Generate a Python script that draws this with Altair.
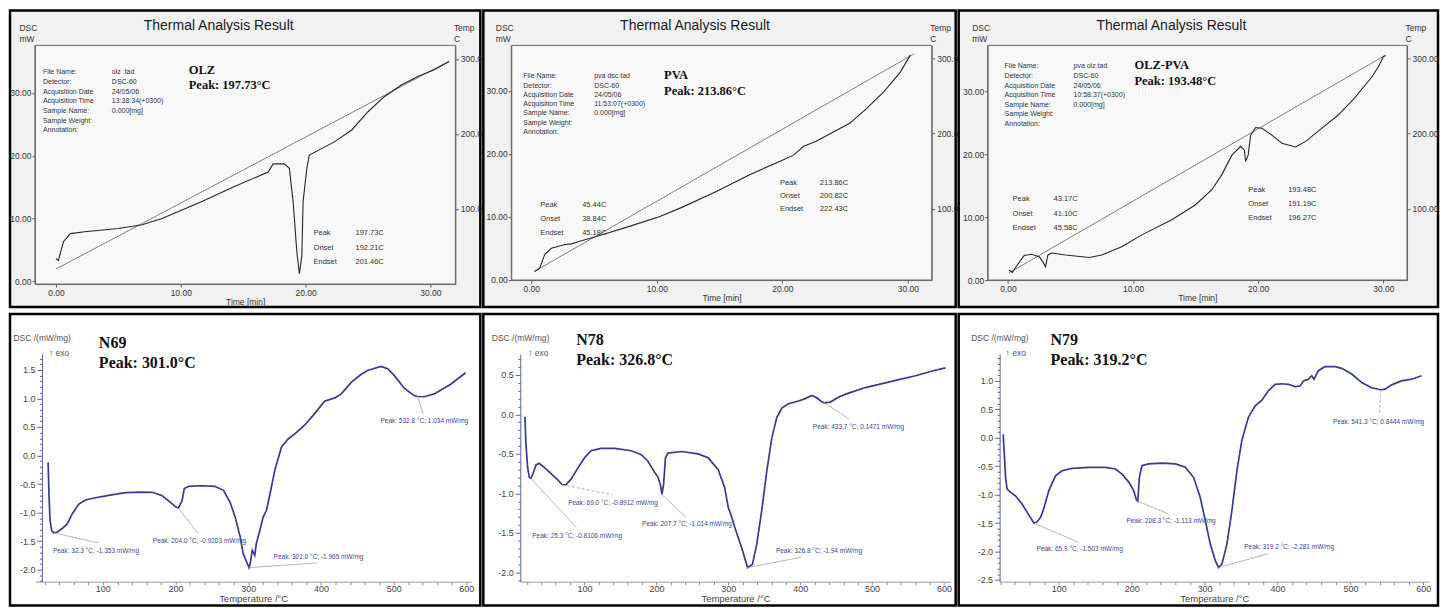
import altair as alt
import pandas as pd

SANS = "Liberation Sans"
SERIF = "Liberation Serif"

# ---------------- data: top row (time [min], DSC [mW], temperature [C]) ----------------
olz_time = [0.0, 0.2, 0.6, 1.15, 2.3, 5.0, 6.9, 8.5, 11.7, 14.3, 17.0, 17.4, 18.3, 18.7, 19.0,
            19.3, 19.5, 19.7, 19.8, 20.1, 20.3, 22.3, 23.7, 25.0, 26.3, 27.7, 29.0, 30.3, 31.5]
olz_dsc = [3.6, 3.35, 6.3, 7.6, 7.9, 8.4, 9.0, 10.0, 12.7, 15.1, 17.4, 18.7, 18.7, 18.0, 12.7,
           4.7, 1.2, 4.1, 12.7, 18.0, 20.1, 22.2, 24.1, 27.0, 29.4, 31.3, 32.6, 33.7, 35.0]
olz_temp_time = [0.0, 31.5]
olz_temp = [20.0, 297.0]

pva_time = [0.27, 0.67, 1.07, 1.6, 2.7, 3.2, 4.0, 5.6, 8.0, 10.2, 12.0, 14.7, 17.4, 20.0, 20.9,
            21.7, 22.7, 25.4, 26.7, 28.1, 29.4, 30.2]
pva_dsc = [1.3, 1.85, 4.0, 5.0, 5.6, 5.7, 6.2, 7.1, 8.6, 10.0, 11.5, 14.0, 16.7, 19.0, 19.8,
           21.2, 22.0, 24.9, 27.2, 29.9, 33.0, 35.7]
pva_temp_time = [0.27, 30.5]
pva_temp = [17.0, 306.0]

mix_time = [0.08, 0.35, 0.75, 1.3, 1.9, 2.5, 2.8, 3.0, 3.2, 3.5, 4.6, 6.5, 7.5, 9.1, 10.7, 13.1,
            15.0, 16.3, 17.1, 17.9, 18.6, 18.9, 19.0, 19.2, 19.4, 19.8, 20.3, 21.1, 21.9, 23.0,
            23.8, 25.1, 26.4, 27.7, 29.1, 29.7, 30.0, 30.2]
mix_dsc = [1.6, 1.2, 2.4, 3.9, 4.1, 3.7, 2.9, 2.1, 4.0, 4.3, 4.0, 3.6, 4.0, 5.3, 7.2, 9.6,
           12.0, 14.4, 16.8, 19.9, 21.3, 20.7, 18.9, 19.9, 23.1, 24.3, 24.2, 23.1, 21.8, 21.2,
           22.1, 24.2, 26.3, 29.0, 32.4, 34.3, 35.6, 35.8]
mix_temp_time = [0.1, 30.1]
mix_temp = [15.0, 303.5]

time_ticks = [0, 10, 20, 30]
dsc_ticks = [0, 10, 20, 30]
temp_ticks = [100, 200, 300]

info_labels = ["File Name:", "Detector:", "Acquisition Date", "Acquisition Time",
               "Sample Name:", "Sample Weight:", "Annotation:"]
olz_info = ["olz .tad", "DSC-60", "24/05/06", "13:38:34(+0300)", "", "0.000[mg]"]
pva_info = ["pva dsc.tad", "DSC-60", "24/05/06", "11:53:07(+0300)", "", "0.000[mg]"]
mix_info = ["pva olz.tad", "DSC-60", "24/05/06", "10:58:37(+0300)", "", "0.000[mg]"]

block_labels = ["Peak", "Onset", "Endset"]
olz_block = ["197.73C", "192.21C", "201.46C"]
pva_block1 = ["45.44C", "38.84C", "45.18C"]
pva_block2 = ["213.86C", "200.82C", "222.43C"]
mix_block1 = ["43.17C", "41.10C", "45.58C"]
mix_block2 = ["193.48C", "191.19C", "196.27C"]

# ---------------- data: bottom row (temperature [C], DSC [mW/mg]) ----------------
n69_T = [24.7, 26.0, 27.4, 29.7, 32.3, 37.4, 44, 51, 58, 67,
         76, 90, 108, 131, 154, 168, 181, 193, 200, 204,
         209, 212, 218, 236, 254, 266, 275, 282, 289, 293,
         298, 301, 303, 305.5, 309, 311, 316, 320.5, 325, 330,
         336.5, 345.7, 354.8, 364, 377.6, 391, 405, 419, 428, 441.6,
         455, 464, 482.6, 491.8, 501, 514.6, 528, 532.8, 542, 555.7,
         578.5, 599]
n69_v = [-0.12, -0.73, -1.14, -1.32, -1.353, -1.34, -1.28, -1.20, -1.02, -0.85,
         -0.78, -0.74, -0.70, -0.65, -0.64, -0.645, -0.70, -0.82, -0.90, -0.92,
         -0.79, -0.58, -0.54, -0.53, -0.54, -0.61, -0.82, -1.08, -1.43, -1.72,
         -1.87, -1.965, -1.87, -1.66, -1.75, -1.55, -1.31, -1.08, -0.96, -0.67,
         -0.26, 0.15, 0.29, 0.38, 0.53, 0.73, 0.95, 1.01, 1.08, 1.28,
         1.42, 1.49, 1.56, 1.52, 1.40, 1.18, 1.05, 1.034, 1.03, 1.08,
         1.25, 1.45]

n78_T = [17.2, 18.6, 21.0, 23.3, 25.3, 28.0, 32.6, 37.0, 44.0, 53.5,
         62.8, 69.0, 74.4, 81.4, 90.7, 100, 109, 123, 142, 165,
         179, 188, 198, 202, 205.6, 207.7, 210, 212.6, 216, 235,
         258, 272, 286, 295, 300, 303.7, 309, 318.6, 326.8, 333.5,
         339.5, 346.5, 353.5, 360.5, 367.4, 374.4, 383.7, 397.7, 407, 416,
         423, 430, 433.7, 442, 453.5, 467.4, 490.7, 514, 537, 560.5,
         583.7, 602]
n78_v = [-0.03, -0.38, -0.68, -0.80, -0.8106, -0.76, -0.64, -0.62, -0.67, -0.75,
         -0.83, -0.8912, -0.89, -0.82, -0.68, -0.55, -0.46, -0.43, -0.43, -0.46,
         -0.51, -0.59, -0.74, -0.79, -0.89, -1.014, -0.89, -0.55, -0.49, -0.47,
         -0.50, -0.55, -0.70, -0.93, -1.18, -1.27, -1.43, -1.69, -1.94, -1.90,
         -1.65, -1.22, -0.72, -0.30, -0.04, 0.08, 0.135, 0.17, 0.20, 0.24,
         0.21, 0.16, 0.147, 0.156, 0.22, 0.27, 0.34, 0.39, 0.44, 0.49,
         0.55, 0.59]

n79_T = [23.7, 25.0, 27.0, 29.0, 33.8, 40.6, 49.8, 59.0, 65.9, 70.0,
         75.0, 79.5, 86.3, 95.4, 104.6, 118, 141, 164, 177.6, 186.8,
         196, 202.7, 206.4, 208.3, 210.5, 214, 223, 241.5, 260, 273.5,
         285, 294, 301, 307.8, 314.6, 319.2, 323.7, 330.6, 337.4, 344.3,
         351, 360, 369.4, 378.5, 387.7, 396.8, 406, 415, 424, 431,
         435.6, 442.5, 447, 450, 456, 465, 479, 488, 501.8, 515.5,
         529, 541.3, 547.5, 556.6, 570, 584, 597.7]
n79_v = [0.06, -0.23, -0.70, -0.90, -0.96, -1.02, -1.17, -1.36, -1.503, -1.48,
         -1.40, -1.24, -0.93, -0.67, -0.58, -0.54, -0.52, -0.52, -0.55, -0.64,
         -0.78, -0.93, -1.09, -1.113, -0.70, -0.49, -0.46, -0.445, -0.46, -0.52,
         -0.70, -1.05, -1.46, -1.87, -2.16, -2.281, -2.22, -1.87, -1.28, -0.58,
         -0.05, 0.36, 0.56, 0.66, 0.83, 0.94, 0.95, 0.94, 0.90, 0.91,
         1.00, 1.03, 1.09, 1.03, 1.18, 1.25, 1.25, 1.22, 1.12, 0.97,
         0.88, 0.8444, 0.855, 0.93, 1.00, 1.03, 1.09]

# peak annotations: peak point, label text, label anchor (data units), dashed leader
n69_peak_T = [32.3, 204.0, 301.0, 532.8]
n69_peak_v = [-1.353, -0.9203, -1.965, 1.034]
n69_peak_txt = ["Peak: 32.3 °C; -1.353 mW/mg", "Peak: 204.0 °C; -0.9203 mW/mg",
                "Peak: 301.0 °C; -1.965 mW/mg", "Peak: 532.8 °C; 1.034 mW/mg"]
n69_lab_T = [31.3, 168.7, 334.9, 481.9]
n69_lab_v = [-1.668, -1.493, -1.773, 0.607]
n69_end_T = [94.1, 231.4, 394.0, 540.5]
n69_end_v = [-1.533, -1.375, -1.883, 0.725]
n69_dash = [False, False, False, False]

n78_peak_T = [25.3, 69.0, 207.7, 326.8, 433.7]
n78_peak_v = [-0.8106, -0.8912, -1.014, -1.94, 0.1471]
n78_peak_txt = ["Peak: 25.3 °C; -0.8106 mW/mg", "Peak: 69.0 °C; -0.8912 mW/mg",
                "Peak: 207.7 °C; -1.014 mW/mg", "Peak: 326.8 °C; -1.94 mW/mg",
                "Peak: 433.7 °C; 0.1471 mW/mg"]
n78_lab_T = [27.4, 77.3, 180.1, 366.2, 417.6]
n78_lab_v = [-1.536, -1.119, -1.384, -1.726, -0.158]
n78_end_T = [88.5, 139.4, 241.3, 401.0, 468.0]
n78_end_v = [-1.431, -1.018, -1.305, -1.81, -0.06]
n78_dash = [False, True, False, False, False]

n79_peak_T = [65.9, 208.3, 319.2, 541.3]
n79_peak_v = [-1.503, -1.113, -2.281, 0.8444]
n79_peak_txt = ["Peak: 65.9 °C; -1.503 mW/mg", "Peak: 208.3 °C; -1.113 mW/mg",
                "Peak: 319.2 °C; -2.281 mW/mg", "Peak: 541.3 °C; 0.8444 mW/mg"]
n79_lab_T = [69.5, 192.7, 354.4, 476.0]
n79_lab_v = [-1.95, -1.458, -1.915, 0.28]
n79_end_T = [127.4, 250.7, 387.7, 540.0]
n79_end_v = [-1.84, -1.34, -2.04, 0.43]
n79_dash = [False, False, False, True]

temp_major = [100, 200, 300, 400, 500, 600]
temp_minor = [20 * i for i in range(1, 31)]

ONE = pd.DataFrame({"k": [0]})


def rect(x0, x1, y0, y1, fill, stroke, sw, fo=1.0):
    return alt.Chart(ONE).mark_rect(fill=fill, fillOpacity=fo, stroke=stroke, strokeWidth=sw).encode(
        x=alt.value(x0), x2=alt.value(x1), y=alt.value(y0), y2=alt.value(y1))


def label(x, y, s, size, font=SANS, weight="normal", color="#222", align="left",
          baseline="middle", lh=None):
    kw = dict(align=align, baseline=baseline, fontSize=size, font=font, fontWeight=weight,
              color=color, lineBreak="\n")
    if lh:
        kw["lineHeight"] = lh
    return alt.Chart(ONE).mark_text(**kw).encode(x=alt.value(x), y=alt.value(y), text=alt.value(s))


def top_panel(w, h, xdom, ydom, tdom, t, dsc, tt, temp, border, info_vals, info_pos,
              name, peak, name_pos, blocks):
    xs = alt.Scale(domain=xdom, nice=False, zero=False)
    xax = alt.Axis(values=time_ticks, format=".2f", title="Time [min]", grid=False, zindex=1,
                   labelFontSize=8.5, labelColor="#333", tickColor="#555", domainColor="#666",
                   tickSize=3, labelPadding=1, titleFontSize=8.5, titleFontWeight="normal",
                   titleColor="#333", titlePadding=1, labelFont=SANS, titleFont=SANS)
    dsc_df = pd.DataFrame({"t": t, "dsc": dsc})
    temp_df = pd.DataFrame({"t": tt, "temp": temp})
    dsc_line = alt.Chart(dsc_df).mark_line(color="#262626", strokeWidth=1.1).encode(
        x=alt.X("t:Q", scale=xs, axis=xax),
        y=alt.Y("dsc:Q", scale=alt.Scale(domain=ydom, nice=False, zero=False),
                axis=alt.Axis(orient="left", values=dsc_ticks, format=".2f", grid=False, zindex=1,
                              title=["DSC", "mW"], titleAngle=0, titleAlign="left",
                              titleBaseline="top", titleX=-16, titleY=-22, titleFontSize=8.5,
                              titleFontWeight="normal", titleLineHeight=11, titleColor="#333",
                              labelFontSize=8.5, labelColor="#333", tickColor="#555",
                              domainColor="#666", tickSize=3, labelPadding=1,
                              labelFont=SANS, titleFont=SANS)))
    temp_line = alt.Chart(temp_df).mark_line(color="#707070", strokeWidth=0.9).encode(
        x=alt.X("t:Q", scale=xs, axis=xax),
        y=alt.Y("temp:Q", scale=alt.Scale(domain=tdom, nice=False, zero=False),
                axis=alt.Axis(orient="right", values=temp_ticks, format=".2f", grid=False, zindex=1,
                              title=["Temp", "C"], titleAngle=0, titleAlign="left",
                              titleBaseline="top", titleX=-2, titleY=-22, titleFontSize=8.5,
                              titleFontWeight="normal", titleLineHeight=11, titleColor="#333",
                              labelFontSize=8.5, labelColor="#333", tickColor="#555",
                              domainColor="#666", tickSize=3, labelPadding=2,
                              labelFont=SANS, titleFont=SANS)))
    bx0, bx1, by0, by1 = border
    layers = [
        rect(bx0, bx1, by0, by1, "#f1f1f1", "#000", 2.5),
        rect(0, w, 0, h, "#f8f8f8", "#666", 1),
        temp_line, dsc_line,
        label(184, -19, "Thermal Analysis Result", 14, align="center", color="#1a1a1a"),
        label(info_pos[0], info_pos[1], "\n".join(info_labels), 7, baseline="top",
              lh=info_pos[3], color="#333"),
        label(info_pos[2], info_pos[1], "\n".join(info_vals), 7, baseline="top",
              lh=info_pos[3], color="#333"),
        label(name_pos[0], name_pos[1], name, 12.5, font=SERIF, weight="bold", color="#111"),
        label(name_pos[0], name_pos[2], peak, 12.5, font=SERIF, weight="bold", color="#111"),
    ]
    for vals, (lx, vx, y0, lh) in blocks:
        layers.append(label(lx, y0, "\n".join(block_labels), 7.5, baseline="top", lh=lh, color="#333"))
        layers.append(label(vx, y0, "\n".join(vals), 7.5, baseline="top", lh=lh, color="#333"))
    return alt.layer(*layers).resolve_scale(y="independent").properties(width=w, height=h)


MAJOR_TEST = "abs(datum.value * 2 - round(datum.value * 2)) < 0.001"


def bottom_panel(w, h, xdom, ydom, T, v, border, yoffset, name, peak, name_pos, exo_x,
                 p_T, p_v, p_txt, l_T, l_v, e_T, e_v, dash):
    ymin = int(round(ydom[0] * 10))
    ymax = int(round(ydom[1] * 10))
    y_minor = [round(i * 0.1, 1) for i in range(ymin, ymax + 1)]
    xs = alt.Scale(domain=xdom, nice=False, zero=False)
    ys = alt.Scale(domain=ydom, nice=False, zero=False)
    xax = alt.Axis(values=temp_minor, format="d", grid=False, zindex=1,
                   labelExpr="datum.value % 100 === 0 ? datum.label : ''",
                   title="Temperature /°C", labelFontSize=9, labelColor="#444",
                   tickColor="#8a8a8a", domainColor="#999", tickSize=3, labelPadding=0,
                   titleFontSize=9.5, titleFontWeight="normal", titleColor="#444",
                   titlePadding=0, labelFont=SANS, titleFont=SANS)
    yax = alt.Axis(values=y_minor, grid=False, zindex=1, offset=yoffset,
                   labelExpr="%s ? replace(format(datum.value, '.1f'), '\u2212', '-') : ''" % MAJOR_TEST,
                   tickSize={"condition": {"test": MAJOR_TEST, "value": 5}, "value": 2.5},
                   title="DSC /(mW/mg)", titleAngle=0, titleAlign="left", titleBaseline="middle",
                   titleX=-29, titleY=-16, titleFontSize=8.5, titleFontWeight="normal",
                   titleColor="#555", labelFontSize=9, labelColor="#444", tickColor="#5a5ea6",
                   domainColor="#5a5ea6", labelPadding=2, labelFont=SANS, titleFont=SANS)
    curve = alt.Chart(pd.DataFrame({"T": T, "v": v})).mark_line(
        color="#363b8f", strokeWidth=1.7).encode(
        x=alt.X("T:Q", scale=xs, axis=xax), y=alt.Y("v:Q", scale=ys, axis=yax))
    ann = pd.DataFrame({"pT": p_T, "pv": p_v, "txt": p_txt, "lT": l_T, "lv": l_v,
                        "eT": e_T, "ev": e_v, "dash": dash})
    leaders = alt.Chart(ann).mark_rule(color="#9c9c9c", strokeWidth=0.8).encode(
        x=alt.X("pT:Q", scale=xs, axis=xax), y=alt.Y("pv:Q", scale=ys, axis=yax),
        x2="eT:Q", y2="ev:Q",
        strokeDash=alt.condition("datum.dash", alt.value([3, 2]), alt.value([1, 0])))
    texts = alt.Chart(ann).mark_text(align="left", baseline="middle", fontSize=6.5,
                                     color="#3d4399", font=SANS).encode(
        x=alt.X("lT:Q", scale=xs, axis=xax), y=alt.Y("lv:Q", scale=ys, axis=yax), text="txt:N")
    bx0, bx1, by0, by1 = border
    layers = [
        rect(bx0, bx1, by0, by1, "#ffffff", "#000", 2.5),
        curve, leaders, texts,
        label(exo_x, -1, "\u2191 exo", 8.5, color="#555"),
        label(name_pos[0], name_pos[1], name, 16, font=SERIF, weight="bold", color="#111"),
        label(name_pos[0], name_pos[2], peak, 16, font=SERIF, weight="bold", color="#111"),
    ]
    return alt.layer(*layers).properties(width=w, height=h)


p1 = top_panel(421, 239, [-1.68, 32.0], [-0.43, 37.57], [0, 318],
               olz_time, olz_dsc, olz_temp_time, olz_temp, (-25, 446, -35, 262),
               olz_info, (8, 23, 77, 9.7), "OLZ", "Peak: 197.73°C", (154, 25, 40),
               [(olz_block, (279, 321, 184, 14.5))])
p2 = top_panel(421, 235, [-1.59, 31.9], [-0.05, 37.25], [5.3, 317.2],
               pva_time, pva_dsc, pva_temp_time, pva_temp, (-28, 445, -35, 262),
               pva_info, (12, 27, 83, 9.3), "PVA", "Peak: 213.86°C", (153, 30, 46),
               [(pva_block1, (29, 71, 156, 13.7)), (pva_block2, (269, 309, 134, 13))])
p3 = top_panel(420, 235, [-1.62, 31.9], [0, 37.4], [5.3, 317.2],
               mix_time, mix_dsc, mix_temp_time, mix_temp, (-29, 451, -35, 262),
               mix_info, (17, 17, 86, 9.6), "OLZ-PVA", "Peak: 193.48°C", (147, 20, 36),
               [(mix_block1, (25, 66, 150, 14.5)), (mix_block2, (261, 301, 141, 14))])

p4 = bottom_panel(437, 228, [6.6, 606.9], [-2.21, 1.78], n69_T, n69_v, (-25, 446, -40, 252), -7,
                  "N69", "Peak: 301.0°C", (64, -11, 9), 14,
                  n69_peak_T, n69_peak_v, n69_peak_txt, n69_lab_T, n69_lab_v,
                  n69_end_T, n69_end_v, n69_dash)
p5 = bottom_panel(431, 228, [10.7, 609.3], [-2.118, 0.766], n78_T, n78_v, (-37, 436, -40, 252), 0,
                  "N78", "Peak: 326.8°C", (56, -14, 6), 8,
                  n78_peak_T, n78_peak_v, n78_peak_txt, n78_lab_T, n78_lab_v,
                  n78_end_T, n78_end_v, n78_dash)
p6 = bottom_panel(430, 228, [18.8, 607.8], [-2.53, 1.474], n79_T, n79_v, (-41, 439, -40, 252), 0,
                  "N79", "Peak: 319.2°C", (51, -14, 6), 6,
                  n79_peak_T, n79_peak_v, n79_peak_txt, n79_lab_T, n79_lab_v,
                  n79_end_T, n79_end_v, n79_dash)

top = alt.hconcat(p1, p2, p3, spacing=56, bounds="flush")
bottom = alt.hconcat(p4, p5, p6, spacing=49, bounds="flush")
chart = alt.vconcat(top, bottom, spacing=3).properties(
    padding=0).configure(font=SANS).configure_view(stroke=None)

chart.save("out.html", embed_options={"renderer": "svg", "actions": False})
